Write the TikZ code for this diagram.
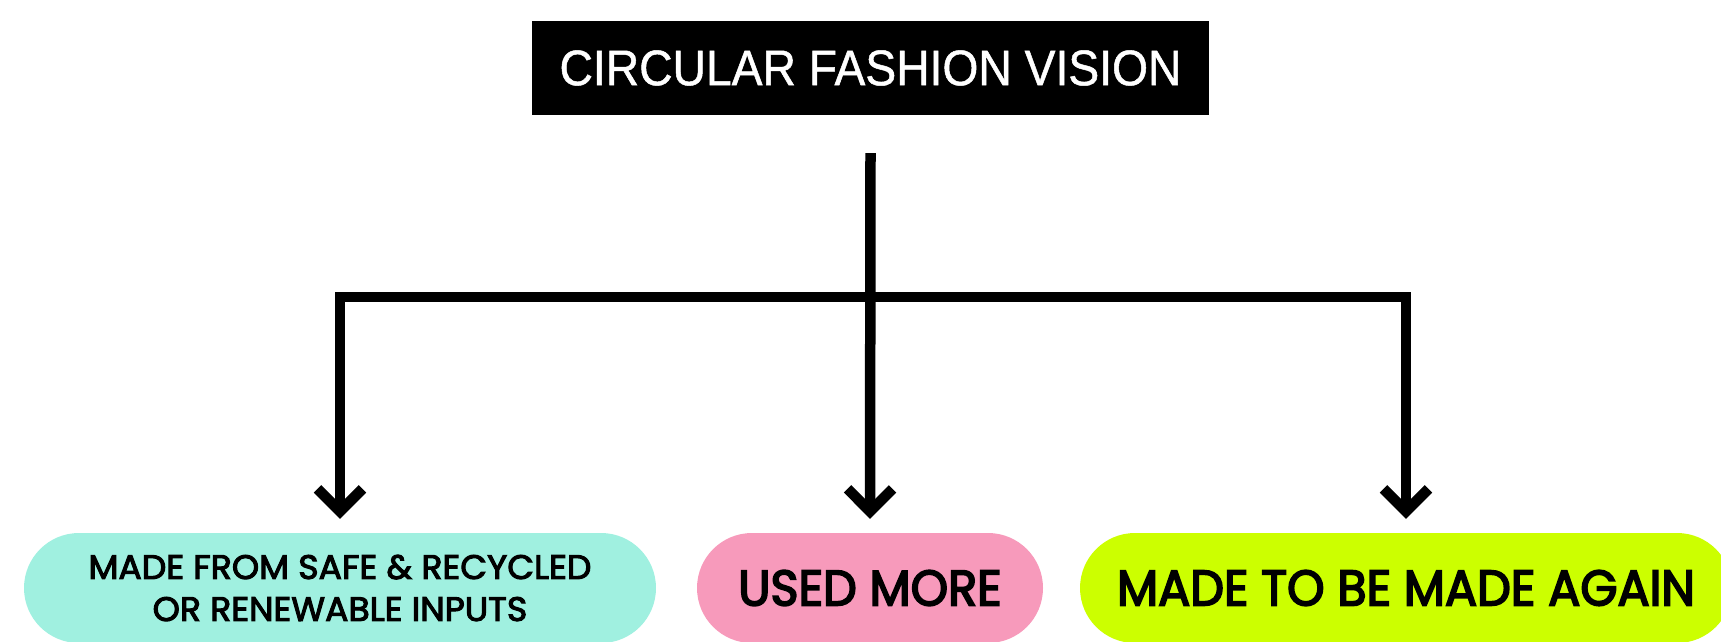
\documentclass[tikz,border=0pt]{standalone}
\usepackage{fontspec}
\setmainfont[FakeStretch=0.925,FakeBold=1]{Liberation Sans}
\newfontfamily\pillfont[FakeStretch=0.955,FakeBold=3.5]{Poppins}
\newfontfamily\smallpillfont[FakeStretch=1.02,FakeBold=3]{Poppins}
\usetikzlibrary{arrows.meta}
\definecolor{acqua}{HTML}{A0F0E0}
\definecolor{rosa}{HTML}{F79ABB}
\definecolor{lime}{HTML}{CCFF00}

\begin{document}
\begin{tikzpicture}[x=1pt, y=-1pt,
  link/.style={line width=10.5pt, -{Straight Barb[sharp, length=22.5pt, width=45pt]}},
  pill/.style={rounded corners=55pt, minimum height=110pt, inner sep=0pt,
    font=\pillfont\fontsize{50}{60}\selectfont}]
  \useasboundingbox (0,0) rectangle (1721,642);
  \clip (0,0) rectangle (1721,642);
  % Title box
  \node[fill=black, text=white, minimum width=677pt, minimum height=94pt, inner sep=0pt,
    font=\fontsize{50}{60}\selectfont] (vision) at (870.5,68) {CIRCULAR FASHION VISION};
  % The three pills
  \node[pill, fill=acqua, minimum width=632pt, align=center,
    font=\smallpillfont\fontsize{34}{42}\selectfont] (inputs) at (340,588)
    {MADE FROM SAFE \& RECYCLED\\OR RENEWABLE INPUTS};
  \node[pill, fill=rosa, minimum width=346pt] (used) at (870,588) {USED MORE};
  \node[pill, fill=lime, minimum width=652pt] (again) at (1406,588) {MADE TO BE MADE AGAIN};
  % Connectors
  \coordinate (bar) at (870.5,297);
  \draw[link] ([yshift=-38pt]vision.south) -- ([yshift=14pt]used.north);
  \draw[link] (bar) -| ([yshift=14pt]inputs.north);
  \draw[link] (bar) -| ([yshift=14pt]again.north);
\end{tikzpicture}
\end{document}
